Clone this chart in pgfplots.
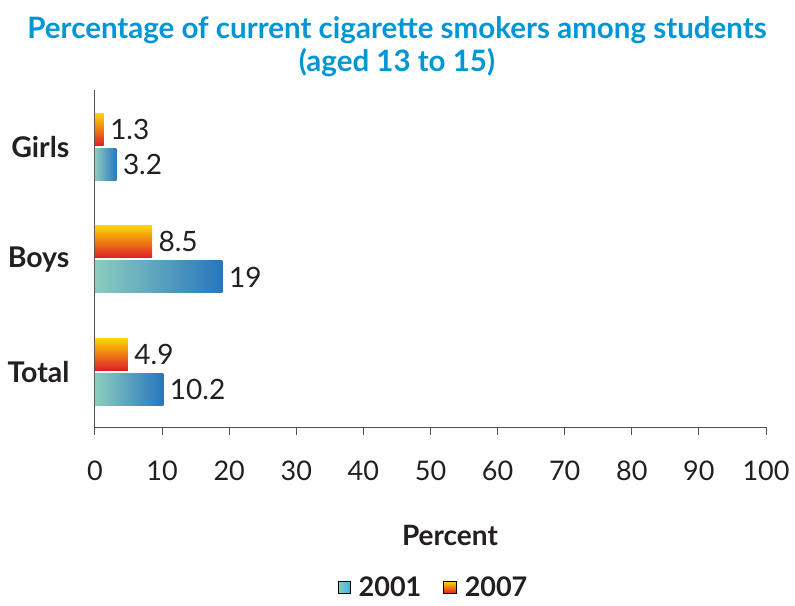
\documentclass[border=0pt]{standalone}
\usepackage{pgfplots}
\pgfplotsset{compat=1.18}
\usepackage{fontspec}
\setmainfont{Lato}
\definecolor{txt}{RGB}{35,31,32}
\definecolor{ttl}{RGB}{0,150,214}
\definecolor{axc}{RGB}{80,80,80}
\definecolor{tealA}{RGB}{140,205,190}
\definecolor{tealB}{RGB}{45,182,228}
\definecolor{tealC}{RGB}{40,118,190}
\definecolor{yelA}{RGB}{255,214,0}
\definecolor{orB}{RGB}{240,110,40}
\definecolor{redC}{RGB}{220,30,42}
\pgfplotsset{
  s2001/.style={draw=none, left color=tealA, middle color=tealB, right color=tealC, bar shift=-17.5pt, forget plot},
  s2007/.style={draw=none, top color=yelA, middle color=orB, bottom color=redC, bar shift=17.5pt, forget plot},
}
\begin{document}
\begin{tikzpicture}
\useasboundingbox (-95pt,-178pt) rectangle (700pt,427pt);
\node[font=\fontsize{29.5}{33}\selectfont\bfseries, text=ttl, align=center] at (302pt,380pt)
  {Percentage of current cigarette smokers among students\\(aged 13 to 15)};
\begin{axis}[
  at={(0pt,0pt)}, anchor=south west,
  scale only axis, width=671pt, height=337pt,
  xbar, bar width=32pt,
  xmin=0, xmax=100, ymin=-0.49, ymax=2.507,
  axis x line*=bottom, axis y line*=left,
  axis line style={axc, line width=1pt},
  xtick={0,10,...,100}, ytick={0,1,2},
  yticklabels={Total,Boys,Girls},
  xtick style={axc, line width=1pt},
  tick align=outside,
  major tick length=8pt,
  ytick style={draw=none},
  /pgf/number format/assume math mode=true,
  xticklabel style={font=\fontsize{27}{30}\selectfont, text=txt, yshift=-22pt},
  yticklabel style={font=\fontsize{28.5}{30}\selectfont\bfseries, text=txt, xshift=-14pt},
  xlabel={Percent},
  xlabel style={font=\fontsize{28}{30}\selectfont\bfseries, text=txt, at={(axis description cs:0.529,-0.323)}, anchor=center},
  nodes near coords,
  nodes near coords style={font=\fontsize{28}{30}\selectfont, text=txt, xshift=3pt},
  legend style={at={(0.505,-0.476)}, anchor=center, legend columns=-1, draw=none, fill=none,
    font=\fontsize{27}{30}\selectfont\bfseries, text=txt,
    /tikz/every odd column/.append style={column sep=6pt},
    /tikz/every even column/.append style={column sep=20pt}},
]
\addplot[s2001] coordinates {(10.2,0)};
\addplot[s2001] coordinates {(19,1)};
\addplot[s2001] coordinates {(3.2,2)};
\addplot[s2007] coordinates {(4.9,0)};
\addplot[s2007] coordinates {(8.5,1)};
\addplot[s2007] coordinates {(1.3,2)};
\addlegendimage{legend image code/.code={\shade[left color=tealA, right color=tealB] (0pt,-6pt) rectangle (12pt,6pt);}}
\addlegendentry{2001}
\addlegendimage{legend image code/.code={\shade[top color=yelA, middle color=orB, bottom color=redC] (0pt,-6pt) rectangle (13pt,6pt);}}
\addlegendentry{2007}
\end{axis}
\end{tikzpicture}
\end{document}
